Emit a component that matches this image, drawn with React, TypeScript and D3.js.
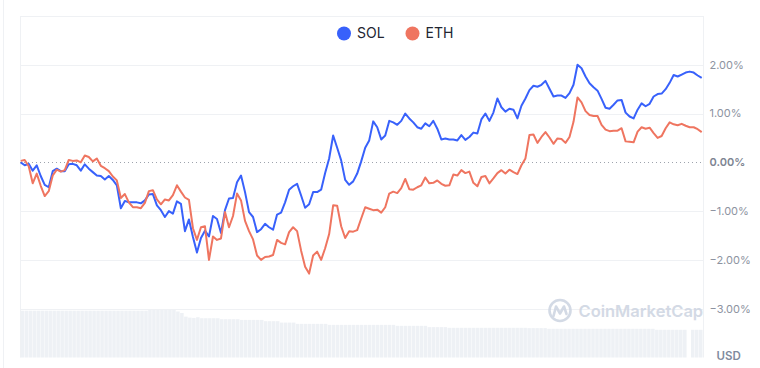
import * as d3 from "d3";
import React, { useRef, useEffect } from "react";

// legend / series
const seriesNames = ["SOL", "ETH"];
const seriesColors = ["#3861fb", "#ef7560"];

// y axis ticks (percent change)
const gridTicks = [3, 2, 1, -1, -2, -3];
const labelTicks = [2, 1, 0, -1, -2, -3];

// % change since start
const solChange = [
  0.0, -0.06, -0.03, -0.17, -0.06, -0.28, -0.46, -0.51, -0.18, -0.13,
  -0.18, -0.18, -0.04, -0.03, -0.06, -0.17, -0.04, -0.13, -0.2, -0.27,
  -0.28, -0.35, -0.28, -0.36, -0.47, -0.94, -0.79, -0.82, -0.82, -0.82,
  -0.84, -0.78, -0.66, -0.65, -0.88, -0.98, -1.12, -1.0, -1.05, -0.8,
  -0.85, -1.41, -1.17, -1.53, -1.85, -1.55, -1.4, -1.52, -1.1, -1.16,
  -1.45, -0.98, -0.74, -0.73, -0.41, -0.27, -0.61, -1.02, -1.12, -1.43,
  -1.37, -1.26, -1.33, -1.38, -1.07, -1.03, -0.82, -0.56, -0.49, -0.44,
  -0.68, -0.93, -0.86, -0.61, -0.61, -0.56, -0.22, 0.08, 0.55, 0.3,
  0.04, -0.36, -0.46, -0.39, -0.23, 0.02, 0.3, 0.45, 0.84, 0.72,
  0.47, 0.55, 0.85, 0.82, 0.77, 0.85, 1.0, 0.9, 0.82, 0.72,
  0.69, 0.8, 0.74, 0.85, 0.69, 0.47, 0.49, 0.47, 0.47, 0.45,
  0.56, 0.46, 0.52, 0.61, 0.59, 0.88, 1.0, 0.85, 1.02, 1.31,
  1.13, 1.04, 1.1, 1.08, 0.9, 1.16, 1.31, 1.48, 1.57, 1.55,
  1.59, 1.67, 1.51, 1.35, 1.37, 1.37, 1.32, 1.42, 1.59, 2.0,
  1.93, 1.76, 1.62, 1.54, 1.47, 1.3, 1.12, 1.1, 1.18, 1.27,
  1.28, 1.02, 0.94, 0.9, 1.08, 1.21, 1.15, 1.2, 1.35, 1.4,
  1.41, 1.5, 1.63, 1.79, 1.76, 1.8, 1.84, 1.86, 1.84, 1.78,
  1.73,
];

const ethChange = [
  0.03, 0.05, -0.08, -0.43, -0.23, -0.48, -0.69, -0.59, -0.27, -0.15,
  -0.19, -0.16, 0.05, 0.03, 0.04, 0.0, 0.14, 0.11, 0.02, 0.08,
  -0.07, -0.12, -0.18, -0.29, -0.37, -0.73, -0.65, -0.82, -0.92, -0.92,
  -0.94, -0.83, -0.59, -0.57, -0.76, -0.86, -0.76, -0.78, -0.67, -0.47,
  -0.6, -0.72, -0.77, -1.35, -1.59, -1.33, -1.31, -2.0, -1.52, -1.59,
  -1.56, -1.02, -1.33, -1.1, -0.64, -0.78, -1.2, -1.41, -1.58, -1.91,
  -2.0, -1.94, -1.93, -1.9, -1.59, -1.65, -1.68, -1.43, -1.33, -1.41,
  -1.81, -2.14, -2.28, -1.91, -1.83, -2.0, -1.76, -1.47, -0.88, -0.89,
  -1.31, -1.55, -1.41, -1.42, -1.39, -1.15, -0.92, -0.95, -0.98, -0.97,
  -1.03, -0.92, -0.64, -0.6, -0.63, -0.53, -0.34, -0.55, -0.56, -0.51,
  -0.47, -0.31, -0.43, -0.42, -0.37, -0.44, -0.48, -0.47, -0.25, -0.27,
  -0.16, -0.22, -0.19, -0.42, -0.49, -0.3, -0.28, -0.43, -0.33, -0.22,
  -0.16, -0.23, -0.15, -0.2, -0.24, -0.06, 0.08, 0.56, 0.57, 0.4,
  0.52, 0.62, 0.51, 0.38, 0.49, 0.48, 0.4, 0.52, 0.83, 1.33,
  1.23, 1.05, 0.97, 0.95, 0.95, 0.77, 0.67, 0.64, 0.65, 0.65,
  0.7, 0.43, 0.42, 0.41, 0.63, 0.72, 0.69, 0.71, 0.6, 0.5,
  0.54, 0.7, 0.82, 0.78, 0.76, 0.79, 0.75, 0.72, 0.72, 0.68,
  0.62,
];

// volume bars (relative), same time steps
const volume = [
  47.3, 47.3, 47.3, 47.3, 47.3, 47.3, 47.3, 47.3, 47.3, 47.3,
  47.3, 47.3, 47.3, 47.3, 47.3, 47.3, 47.3, 47.3, 47.3, 47.3,
  47.3, 47.3, 47.3, 47.3, 47.3, 47.3, 47.3, 47.3, 47.3, 47.3,
  47.3, 47.3, 48, 48, 48, 48, 48, 48, 48, 46.5,
  45, 41.3, 40.3, 40, 40.7, 39.7, 39.7, 39.7, 39.7, 39.7,
  38.7, 38.7, 38.7, 38.7, 38.7, 38, 38, 38, 38, 38,
  38, 36.7, 36.7, 36.7, 36.7, 35.3, 35.3, 35.3, 35.3, 34,
  34, 34, 34, 34, 34, 34, 34, 33, 33, 33,
  33, 33, 33, 33, 33, 33, 33, 33, 33, 33,
  33, 33, 33, 33, 32, 32, 32, 32, 32, 32,
  32, 32, 30.7, 30.7, 30.7, 30.7, 30.7, 30, 30, 30,
  30, 30, 30, 30, 30, 30, 30, 30, 30, 30,
  30, 30, 30, 30, 30, 30, 30, 29.7, 29.7, 29.7,
  29.7, 29.7, 29, 29, 29, 29, 29, 29, 29, 29,
  29, 29, 29, 29, 29, 29, 29, 29, 29, 29,
  29, 29, 29, 29, 29, 29, 29, 29, 29, 28,
  28, 28, 28, 28, 28, 28, 28, 0, 28, 28,
  28,
];

function App() {
  const svgRef = useRef(null);

  useEffect(() => {
    const svg = d3.select(svgRef.current);
    svg.selectAll("*").remove();

    const plotLeft = 20;
    const plotRight = 703;
    const plotTop = 16;
    const plotBottom = 357.5;

    const x = d3
      .scaleLinear()
      .domain([0, solChange.length - 1])
      .range([20.7, 701.7]);
    const y = d3.scaleLinear().domain([-4, 3]).range([plotBottom, plotTop]);

    // volume bars at the bottom
    const xBand = d3
      .scaleBand()
      .domain(d3.range(volume.length))
      .range([plotLeft, plotRight])
      .padding(0.12);
    const yVol = d3
      .scaleLinear()
      .domain([0, d3.max(volume)])
      .range([plotBottom, 310]);

    svg
      .append("g")
      .selectAll("rect")
      .data(volume)
      .enter()
      .append("rect")
      .attr("x", (d, i) => xBand(i))
      .attr("width", xBand.bandwidth())
      .attr("y", (d) => yVol(d))
      .attr("height", (d) => plotBottom - yVol(d))
      .attr("fill", "#eef1f5");

    // outer card edge
    svg
      .append("line")
      .attr("x1", 3.5)
      .attr("x2", 3.5)
      .attr("y1", 0)
      .attr("y2", 368)
      .attr("stroke", "#eff1f4");

    // grid lines
    svg
      .append("g")
      .selectAll("line")
      .data(gridTicks)
      .enter()
      .append("line")
      .attr("x1", plotLeft)
      .attr("x2", plotRight)
      .attr("y1", (d) => Math.round(y(d)) + 0.5)
      .attr("y2", (d) => Math.round(y(d)) + 0.5)
      .attr("stroke", "#eff1f4");

    // frame sides
    [plotLeft, plotRight].forEach((px) => {
      svg
        .append("line")
        .attr("x1", px + 0.5)
        .attr("x2", px + 0.5)
        .attr("y1", plotTop)
        .attr("y2", plotBottom)
        .attr("stroke", "#eff1f4");
    });

    // zero line, dotted
    svg
      .append("line")
      .attr("x1", plotLeft)
      .attr("x2", plotRight)
      .attr("y1", Math.round(y(0)) + 0.5)
      .attr("y2", Math.round(y(0)) + 0.5)
      .attr("stroke", "#9ea3ad")
      .attr("stroke-dasharray", "1 3");

    // y labels on the right
    svg
      .append("g")
      .selectAll("text")
      .data(labelTicks)
      .enter()
      .append("text")
      .attr("x", 709.5)
      .attr("y", (d) => y(d))
      .attr("dy", "0.35em")
      .attr("font-size", 11)
      .attr("font-weight", (d) => (d === 0 ? 600 : 400))
      .attr("fill", (d) => (d === 0 ? "#7d8492" : "#8d93a1"))
      .text((d) => d3.format(".2f")(d) + "%");

    svg
      .append("text")
      .attr("x", 716.5)
      .attr("y", 356)
      .attr("dy", "0.35em")
      .attr("font-size", 11.5)
      .attr("font-weight", 600)
      .attr("fill", "#808a9d")
      .text("USD");

    // watermark
    const wm = svg.append("g").attr("opacity", 0.9);
    wm.append("circle")
      .attr("cx", 560)
      .attr("cy", 310.5)
      .attr("r", 10.5)
      .attr("fill", "none")
      .attr("stroke", "#cfd6e3")
      .attr("stroke-width", 2.6);
    wm.append("path")
      .attr("d", "M553.5,316 L556,306.5 L560,313.5 L564,306.5 L566.5,314")
      .attr("fill", "none")
      .attr("stroke", "#cfd6e3")
      .attr("stroke-width", 2.6)
      .attr("stroke-linejoin", "round")
      .attr("stroke-linecap", "round");
    wm.append("text")
      .attr("x", 578.5)
      .attr("y", 311)
      .attr("dy", "0.35em")
      .attr("font-size", 16.5)
      .attr("font-weight", 600)
      .attr("fill", "#cfd6e3")
      .text("CoinMarketCap");

    // lines
    const line = d3
      .line()
      .x((d, i) => x(i))
      .y((d) => y(d));

    [solChange, ethChange].forEach((data, i) => {
      svg
        .append("path")
        .datum(data)
        .attr("d", line)
        .attr("fill", "none")
        .attr("stroke", seriesColors[i])
        .attr("stroke-width", 2)
        .attr("stroke-linejoin", "round");
    });

    // legend
    const legendX = [344, 412.5];
    const legend = svg
      .append("g")
      .selectAll("g")
      .data(seriesNames)
      .enter()
      .append("g")
      .attr("transform", (d, i) => `translate(${legendX[i]}, 33.5)`);
    legend
      .append("circle")
      .attr("r", 7)
      .attr("fill", (d, i) => seriesColors[i]);
    legend
      .append("text")
      .attr("x", 13)
      .attr("dy", "0.35em")
      .attr("font-size", 14)
      .attr("fill", "#222531")
      .text((d) => d);
  }, []);

  return (
    <svg
      ref={svgRef}
      width={760}
      height={368}
      style={{ position: "absolute", left: 0, top: 0, fontFamily: "Inter, sans-serif", background: "#fff" }}
    />
  );
}

export default App;
